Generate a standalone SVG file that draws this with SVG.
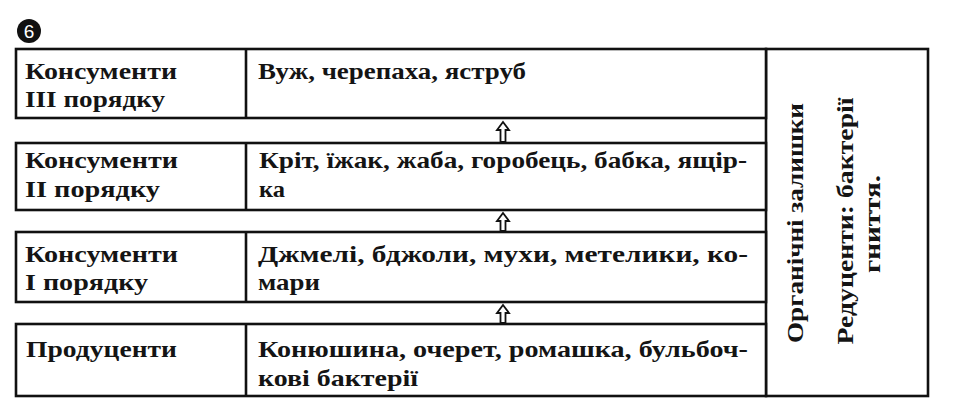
<svg xmlns="http://www.w3.org/2000/svg" width="966" height="411" viewBox="0 0 966 411">
  <style>
    .box { fill: #ffffff; stroke: #111111; stroke-width: 2.6; }
    .t { font-family: "Liberation Serif", "DejaVu Serif", serif; font-weight: bold; font-size: 22.5px; fill: #141414; }
    .arrow { fill: #ffffff; stroke: #111111; stroke-width: 1.8; stroke-linejoin: miter; }
    .badge { fill: #111111; }
    .badge-t { font-family: "Liberation Sans", Arial, sans-serif; font-size: 19px; fill: #ffffff; }
  </style>
  <rect x="0" y="0" width="966" height="411" fill="#ffffff"/>

  <g id="badge">
    <circle class="badge" cx="29" cy="31" r="12"/>
    <text class="badge-t" x="29" y="38" text-anchor="middle">6</text>
  </g>

  <g id="reducers">
    <rect class="box" x="766" y="49" width="162" height="347"/>
    <text class="t" transform="translate(803,223) rotate(-90)" text-anchor="middle" textLength="240" lengthAdjust="spacingAndGlyphs">Органічні залишки</text>
    <text class="t" transform="translate(853,221) rotate(-90)" text-anchor="middle" textLength="247" lengthAdjust="spacingAndGlyphs">Редуценти: бактерії</text>
    <text class="t" transform="translate(880,224) rotate(-90)" text-anchor="middle" textLength="98" lengthAdjust="spacingAndGlyphs">гниття.</text>
  </g>

  <g id="row1">
    <rect class="box" x="16" y="49" width="750" height="69"/>
    <line class="box" x1="246" y1="49" x2="246" y2="118"/>
    <g id="row1-label">
      <text class="t" x="25" y="79" textLength="152" lengthAdjust="spacingAndGlyphs">Консументи</text>
      <text class="t" x="25" y="107" textLength="140" lengthAdjust="spacingAndGlyphs">III порядку</text>
    </g>
    <g id="row1-content">
      <text class="t" x="258" y="79" textLength="268" lengthAdjust="spacingAndGlyphs">Вуж, черепаха, яструб</text>
    </g>
  </g>

  <g id="row2">
    <rect class="box" x="16" y="143" width="750" height="67"/>
    <line class="box" x1="246" y1="143" x2="246" y2="210"/>
    <g id="row2-label">
      <text class="t" x="25" y="168" textLength="153" lengthAdjust="spacingAndGlyphs">Консументи</text>
      <text class="t" x="25" y="197" textLength="135" lengthAdjust="spacingAndGlyphs">II порядку</text>
    </g>
    <g id="row2-content">
      <text class="t" x="259" y="168" textLength="488" lengthAdjust="spacingAndGlyphs">Кріт, їжак, жаба, горобець, бабка, ящір-</text>
      <text class="t" x="259" y="197" textLength="26" lengthAdjust="spacingAndGlyphs">ка</text>
    </g>
  </g>

  <g id="row3">
    <rect class="box" x="16" y="232" width="750" height="70"/>
    <line class="box" x1="246" y1="232" x2="246" y2="302"/>
    <g id="row3-label">
      <text class="t" x="25" y="262" textLength="153" lengthAdjust="spacingAndGlyphs">Консументи</text>
      <text class="t" x="25" y="290" textLength="123" lengthAdjust="spacingAndGlyphs">I порядку</text>
    </g>
    <g id="row3-content">
      <text class="t" x="258" y="262" textLength="490" lengthAdjust="spacingAndGlyphs">Джмелі, бджоли, мухи, метелики, ко-</text>
      <text class="t" x="258" y="290" textLength="62" lengthAdjust="spacingAndGlyphs">мари</text>
    </g>
  </g>

  <g id="row4">
    <rect class="box" x="16" y="324" width="750" height="72"/>
    <line class="box" x1="246" y1="324" x2="246" y2="396"/>
    <g id="row4-label">
      <text class="t" x="26" y="357" textLength="151" lengthAdjust="spacingAndGlyphs">Продуценти</text>
    </g>
    <g id="row4-content">
      <text class="t" x="258" y="357" textLength="490" lengthAdjust="spacingAndGlyphs">Конюшина, очерет, ромашка, бульбоч-</text>
      <text class="t" x="258" y="386" textLength="160" lengthAdjust="spacingAndGlyphs">кові бактерії</text>
    </g>
  </g>

  <g id="connectors">
    <polygon class="arrow" points="503,122 509,130 505.5,130 505.5,142 500.5,142 500.5,130 497,130"/>
    <polygon class="arrow" points="503,213 509,221 505.5,221 505.5,231 500.5,231 500.5,221 497,221"/>
    <polygon class="arrow" points="503,305 509,313 505.5,313 505.5,323 500.5,323 500.5,313 497,313"/>
  </g>
</svg>
